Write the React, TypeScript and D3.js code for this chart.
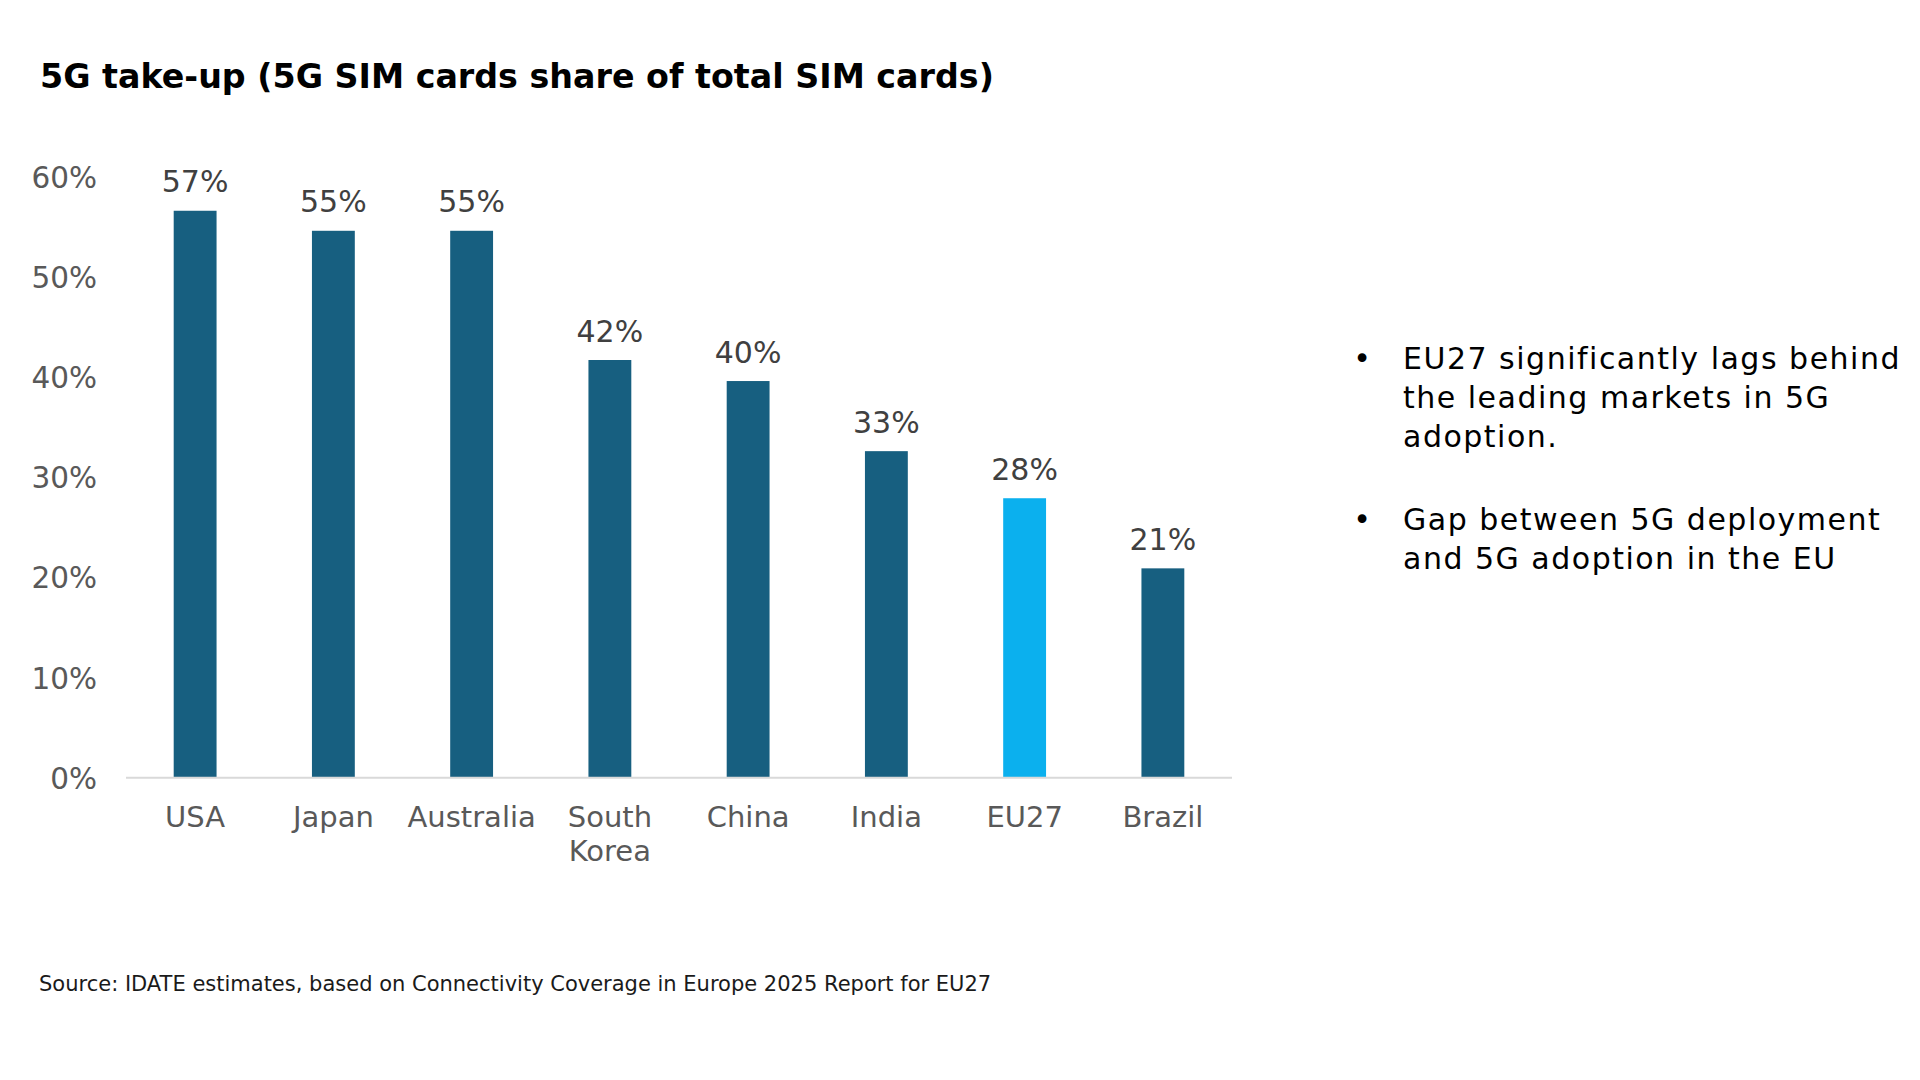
import React, { useEffect, useRef } from 'react';
import * as d3 from 'd3';

const categories = ['USA', 'Japan', 'Australia', 'South Korea', 'China', 'India', 'EU27', 'Brazil'];
const shares = [0.566, 0.546, 0.546, 0.417, 0.396, 0.326, 0.279, 0.209];
const highlight = ['EU27'];
const yTicks = [0, 0.1, 0.2, 0.3, 0.4, 0.5, 0.6];
const bullets = [
  ['EU27 significantly lags behind', 'the leading markets in 5G', 'adoption.'],
  ['Gap between 5G deployment', 'and 5G adoption in the EU'],
];
const title = '5G take-up (5G SIM cards share of total SIM cards)';
const source = 'Source: IDATE estimates, based on Connectivity Coverage in Europe 2025 Report for EU27';

const FONT = "'DejaVu Sans', Verdana, sans-serif";

function App() {
  const ref = useRef<any>(null);
  const dimensions = { width: 1920, height: 1080 };

  useEffect(() => {
    const svg = d3.select(ref.current).attr('width', dimensions.width).attr('height', dimensions.height);
    svg.selectAll('*').remove();

    const x = d3.scaleBand().domain(categories).range([126, 1232]).paddingInner(0.69).paddingOuter(0.345);
    const y = d3.scaleLinear().domain([0, 0.6]).range([777.7, 176.7]);
    const pct = d3.format('.0%');

    svg
      .append('text')
      .attr('x', 40)
      .attr('y', 88)
      .attr('font-family', FONT)
      .attr('font-weight', 'bold')
      .attr('font-size', 33.3)
      .attr('fill', '#000')
      .text(title);

    // y tick labels, no axis line
    svg
      .append('g')
      .selectAll('text')
      .data(yTicks)
      .join('text')
      .attr('x', 97)
      .attr('y', (d) => y(d) + 11)
      .attr('text-anchor', 'end')
      .attr('font-family', FONT)
      .attr('font-size', 29.5)
      .attr('fill', '#595959')
      .text((d) => pct(d));

    const data = categories.map((c, i) => ({ c, v: shares[i] }));

    svg
      .append('g')
      .selectAll('rect')
      .data(data)
      .join('rect')
      .attr('x', (d) => x(d.c)!)
      .attr('y', (d) => y(d.v))
      .attr('width', x.bandwidth())
      .attr('height', (d) => y(0) - y(d.v))
      .attr('fill', (d) => (highlight.includes(d.c) ? '#0bb0ee' : '#175f80'));

    svg
      .append('line')
      .attr('x1', 126)
      .attr('x2', 1232)
      .attr('y1', y(0))
      .attr('y2', y(0))
      .attr('stroke', '#d9d9d9')
      .attr('stroke-width', 2);

    // value labels
    svg
      .append('g')
      .selectAll('text')
      .data(data)
      .join('text')
      .attr('x', (d) => x(d.c)! + x.bandwidth() / 2)
      .attr('y', (d) => y(d.v) - 18.5)
      .attr('text-anchor', 'middle')
      .attr('font-family', FONT)
      .attr('font-size', 30)
      .attr('fill', '#404040')
      .text((d) => pct(d.v));

    // category labels, wrapped on space for South Korea
    const cat = svg
      .append('g')
      .selectAll('text')
      .data(categories)
      .join('text')
      .attr('x', (d) => x(d)! + x.bandwidth() / 2)
      .attr('y', 826.7)
      .attr('text-anchor', 'middle')
      .attr('font-family', FONT)
      .attr('font-size', 29)
      .attr('fill', '#595959');
    cat
      .selectAll('tspan')
      .data((d) => (d === 'South Korea' ? d.split(' ') : [d]))
      .join('tspan')
      .attr('x', function () {
        return (this as any).parentNode.getAttribute('x');
      })
      .attr('dy', (_d, i) => (i === 0 ? 0 : 34))
      .text((d) => d);

    // bullet notes
    const notes = svg.append('g').attr('font-family', FONT).attr('font-size', 30).attr('fill', '#000');
    const starts = [369, 530];
    bullets.forEach((lines, bi) => {
      notes
        .append('text')
        .attr('x', 1362)
        .attr('y', starts[bi])
        .attr('text-anchor', 'middle')
        .text('•');
      lines.forEach((line, li) => {
        notes
          .append('text')
          .attr('x', 1403)
          .attr('y', starts[bi] + li * 39)
          .attr('letter-spacing', 1.5)
          .text(line);
      });
    });

    svg
      .append('text')
      .attr('x', 39)
      .attr('y', 991)
      .attr('font-family', FONT)
      .attr('font-size', 21)
      .attr('fill', '#1a1a1a')
      .text(source);
  });

  return (
    <div id="chartArea" style={{ position: 'absolute', left: 0, top: 0 }}>
      <svg ref={ref} style={{ display: 'block', background: '#fff' }}></svg>
    </div>
  );
}

export default App;
